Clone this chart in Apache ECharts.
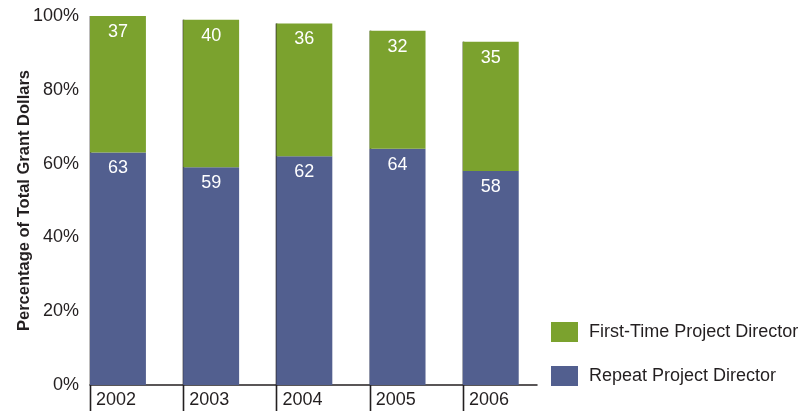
<!DOCTYPE html>
<html>
<head>
<meta charset="utf-8">
<script src="https://cdn.jsdelivr.net/npm/echarts@6/dist/echarts.min.js"></script>
<style>
  html, body { margin: 0; padding: 0; background: #ffffff; }
  #chart { width: 809px; height: 411px; }
</style>
</head>
<body>
<div id="chart"></div>
<script>
// Share of total grant dollars by project-director type, 2002–2006
const years = ['2002', '2003', '2004', '2005', '2006'];
const repeatPct = [63, 59, 62, 64, 58];
const firstTimePct = [37, 40, 36, 32, 35];
const seriesNames = ['First-Time Project Director', 'Repeat Project Director'];

const GREEN = '#7ba22e';
const BLUE = '#525f8f';
const INK = '#231f20';
const FONT = '"Liberation Sans", Arial, sans-serif';

// stacked height of each column, used for the dark left-edge rule
const totals = years.map((y, i) => [i, repeatPct[i] + firstTimePct[i]]);

const chart = echarts.init(document.getElementById('chart'), null, { renderer: 'canvas' });

const valueLabel = {
  show: true,
  position: 'insideTop',
  distance: 7,
  color: '#ffffff',
  fontSize: 18,
  fontFamily: FONT
};

chart.setOption({
  animation: false,
  textStyle: { fontFamily: FONT },
  grid: [
    { left: 90, top: 16, width: 466, height: 369, containLabel: false, outerBoundsMode: 'none' },
    { left: 90, top: 16, width: 447, height: 369, containLabel: false, outerBoundsMode: 'none' }
  ],
  legend: {
    data: seriesNames,
    orient: 'vertical',
    left: 546,
    top: 317,
    itemWidth: 27,
    itemHeight: 20,
    itemGap: 24,
    icon: 'rect',
    textStyle: { fontSize: 18, color: INK, fontFamily: FONT, padding: [0, 0, 0, 6] },
    selectedMode: false
  },
  xAxis: [
    {
      type: 'category',
      gridIndex: 0,
      data: years,
      boundaryGap: true,
      axisLine: { show: false },
      axisTick: { show: false },
      axisLabel: {
        color: INK,
        fontSize: 18,
        fontFamily: FONT,
        margin: 6,
        padding: [0, 41, 0, 0]
      },
      splitLine: { show: false }
    },
    {
      type: 'value',
      gridIndex: 1,
      min: 0,
      max: 1,
      axisLine: { show: true, lineStyle: { color: INK, width: 1.5 } },
      axisTick: { show: false },
      axisLabel: { show: false },
      splitLine: { show: false }
    }
  ],
  yAxis: [
    {
      type: 'value',
      gridIndex: 0,
      min: 0,
      max: 100,
      interval: 20,
      axisLine: { show: false },
      axisTick: { show: false },
      splitLine: { show: false },
      axisLabel: {
        formatter: '{value}%',
        color: INK,
        fontSize: 18,
        fontFamily: FONT,
        margin: 11
      },
      name: 'Percentage of Total Grant Dollars',
      nameLocation: 'middle',
      nameRotate: 90,
      nameGap: 57,
      nameMoveOverlap: false,
      nameTextStyle: {
        color: INK,
        fontSize: 16.5,
        fontWeight: 'bold',
        fontFamily: FONT
      }
    },
    {
      type: 'value',
      gridIndex: 1,
      show: false,
      min: 0,
      max: 1
    }
  ],
  series: [
    {
      name: seriesNames[1],
      type: 'bar',
      stack: 'share',
      xAxisIndex: 0,
      yAxisIndex: 0,
      barWidth: '60%',
      barGap: '0%',
      data: repeatPct,
      itemStyle: { color: BLUE },
      label: valueLabel
    },
    {
      name: seriesNames[0],
      type: 'bar',
      stack: 'share',
      xAxisIndex: 0,
      yAxisIndex: 0,
      barWidth: '60%',
      barGap: '0%',
      data: firstTimePct,
      itemStyle: { color: GREEN },
      label: valueLabel
    },
    {
      // empty slot that pushes each column to the left of its band
      name: 'pad',
      type: 'bar',
      stack: 'pad',
      xAxisIndex: 0,
      yAxisIndex: 0,
      barWidth: '40%',
      barGap: '0%',
      data: [],
      silent: true
    },
    {
      // dark rule on the left edge of each column, running down as a tick below the axis
      name: 'edge',
      type: 'custom',
      xAxisIndex: 0,
      yAxisIndex: 0,
      clip: false,
      silent: true,
      data: totals,
      renderItem: function (params, api) {
        const top = api.coord([api.value(0), api.value(1)]);
        const base = api.coord([api.value(0), 0]);
        const band = api.size([1, 0])[0];
        const x = Math.round(top[0] - band / 2) + 0.5;
        return {
          type: 'line',
          shape: { x1: x, y1: top[1], x2: x, y2: base[1] + 26 },
          style: { stroke: INK, lineWidth: 1.6 }
        };
      }
    }
  ]
});
</script>
</body>
</html>
